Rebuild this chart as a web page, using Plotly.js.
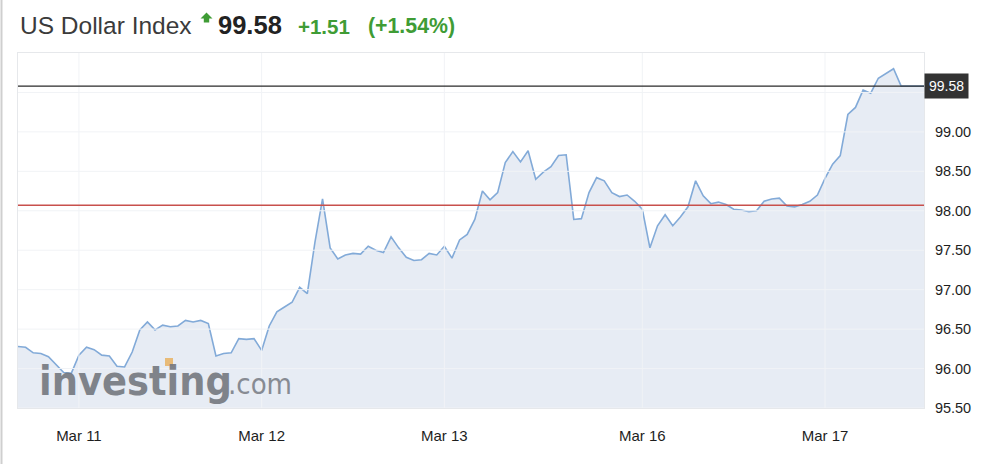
<!DOCTYPE html>
<html>
<head>
<meta charset="utf-8">
<script src="https://cdn.plot.ly/plotly-3.0.1.min.js"></script>
<style>
  html, body { margin: 0; padding: 0; background: #ffffff; }
  #chart { width: 1000px; height: 464px; }
</style>
</head>
<body>
<div id="chart"></div>
<script>
// ---- data (hourly points, index-based axis that skips the weekend) ----
const dxyValues = [
  96.28, 96.27, 96.20, 96.19, 96.15, 96.05, 95.95, 95.94, 96.17, 96.27,
  96.24, 96.17, 96.16, 96.03, 96.02, 96.21, 96.49, 96.59, 96.49, 96.55,
  96.53, 96.54, 96.61, 96.59, 96.61, 96.57, 96.16, 96.19, 96.20, 96.38,
  96.37, 96.38, 96.23, 96.54, 96.72, 96.78, 96.84, 97.03, 96.95, 97.60,
  98.15, 97.53, 97.39, 97.44, 97.46, 97.45, 97.55, 97.50, 97.47, 97.67,
  97.53, 97.41, 97.37, 97.38, 97.46, 97.44, 97.55, 97.40, 97.63, 97.70,
  97.89, 98.25, 98.14, 98.23, 98.61, 98.75, 98.62, 98.76, 98.40, 98.49,
  98.56, 98.70, 98.71, 97.89, 97.90, 98.23, 98.42, 98.38, 98.23, 98.18,
  98.20, 98.12, 98.02, 97.53, 97.81, 97.95, 97.81, 97.92, 98.05, 98.38,
  98.19, 98.09, 98.11, 98.08, 98.02, 98.01, 97.99, 98.00, 98.12, 98.15,
  98.16, 98.06, 98.05, 98.08, 98.12, 98.20, 98.41, 98.59, 98.70, 99.22,
  99.31, 99.53, 99.49, 99.68, 99.74, 99.80, 99.58, 99.58, 99.58, 99.58
];
const dayTickIndex = [8, 32, 56, 82, 106];
const dayTickLabels = ['Mar 11', 'Mar 12', 'Mar 13', 'Mar 16', 'Mar 17'];
const priceTicks = [95.5, 96.0, 96.5, 97.0, 97.5, 98.0, 98.5, 99.0];
const gridLevels = [95.5, 96.0, 96.5, 97.0, 97.5, 98.0, 98.5, 99.0, 99.5];
const lastPrice = 99.58;
const prevClose = 98.07;
const change = '+1.51';
const changePct = '(+1.54%)';
const instrument = 'US Dollar Index';

const xIdx = dxyValues.map((_, i) => i);

// plot frame in pixels (for placing header texts in paper coords)
const L = 18, R = 924, T = 53, B = 408;
const px = p => (p - L) / (R - L);
const py = p => (B - p) / (B - T);

const FONT = '"Liberation Sans", Arial, Helvetica, sans-serif';
const LOGO_FONT = '"DejaVu Sans Condensed", "Liberation Sans", Arial, sans-serif';
const GREEN = '#3f9c35';

const trace = {
  x: xIdx,
  y: dxyValues,
  type: 'scatter',
  mode: 'lines',
  fill: 'tozeroy',
  fillcolor: '#e7ecf4',
  line: { color: '#82aad8', width: 1.6 },
  hoverinfo: 'skip'
};

const shapes = [];
gridLevels.forEach(v => shapes.push({
  type: 'line', xref: 'paper', yref: 'y', x0: 0, x1: 1, y0: v, y1: v,
  line: { color: '#f1f3f6', width: 1 }, layer: 'above'
}));
dayTickIndex.forEach(i => shapes.push({
  type: 'line', xref: 'x', yref: 'paper', x0: i, x1: i, y0: 0, y1: 1,
  line: { color: '#f1f3f6', width: 1 }, layer: 'above'
}));
// previous close (red) and last price (black)
shapes.push({
  type: 'line', xref: 'paper', yref: 'y', x0: 0, x1: 1, y0: prevClose, y1: prevClose,
  line: { color: '#c8504c', width: 1.5 }, layer: 'above'
});
shapes.push({
  type: 'line', xref: 'paper', yref: 'y', x0: 0, x1: 1, y0: lastPrice, y1: lastPrice,
  line: { color: '#2a2a2a', width: 1.4 }, layer: 'above'
});
// page border on the far left
shapes.push({
  type: 'line', xref: 'paper', yref: 'paper', x0: px(1.5), x1: px(1.5), y0: py(0), y1: py(464),
  line: { color: '#cfcfcf', width: 2 }, layer: 'above'
});
// green up arrow icon next to the title
const arrowPts = [[206.5, 12.5], [212.5, 18.5], [209.2, 18.5], [209.2, 22.5], [203.8, 22.5], [203.8, 18.5], [200.5, 18.5]];
shapes.push({
  type: 'path', xref: 'paper', yref: 'paper',
  path: 'M' + arrowPts.map(p => px(p[0]) + ',' + py(p[1])).join(' L') + ' Z',
  fillcolor: GREEN, line: { width: 0 }, layer: 'above'
});
// orange square of the watermark logo
shapes.push({
  type: 'rect', xref: 'paper', yref: 'paper',
  x0: px(165), x1: px(173), y0: py(366), y1: py(358),
  fillcolor: '#e8bb78', line: { width: 0 }, layer: 'above'
});

const annotations = [
  { text: instrument, xref: 'paper', yref: 'paper', x: px(18), y: py(25), xanchor: 'left', yanchor: 'middle',
    showarrow: false, font: { family: FONT, size: 24.5, color: '#3b3b3b' } },
  { text: '<b>' + lastPrice.toFixed(2) + '</b>', xref: 'paper', yref: 'paper', x: px(216), y: py(25), xanchor: 'left', yanchor: 'middle',
    showarrow: false, font: { family: FONT, size: 25.5, color: '#222222' } },
  { text: '<b>' + change + '</b>', xref: 'paper', yref: 'paper', x: px(296), y: py(26), xanchor: 'left', yanchor: 'middle',
    showarrow: false, font: { family: FONT, size: 20.5, color: GREEN } },
  { text: '<b>' + changePct + '</b>', xref: 'paper', yref: 'paper', x: px(366), y: py(26), xanchor: 'left', yanchor: 'middle',
    showarrow: false, font: { family: FONT, size: 21.3, color: GREEN } },
  // last price tag on the right axis
  { text: lastPrice.toFixed(2), xref: 'paper', yref: 'y', x: 1, y: lastPrice, xanchor: 'left', yanchor: 'middle',
    showarrow: false, bgcolor: '#333333', borderpad: 4, font: { family: FONT, size: 14, color: '#ffffff' } },
  // watermark
  { text: '<b>investing</b>', xref: 'paper', yref: 'paper', x: px(37), y: py(381), xanchor: 'left', yanchor: 'middle',
    showarrow: false, opacity: 0.9, font: { family: LOGO_FONT, size: 41, color: '#74787f' } },
  { text: '.com', xref: 'paper', yref: 'paper', x: px(226), y: py(384), xanchor: 'left', yanchor: 'middle',
    showarrow: false, opacity: 0.9, font: { family: LOGO_FONT, size: 29, color: '#7d8189' } }
];

const layout = {
  width: 1000, height: 464,
  margin: { l: L, r: 1000 - R, t: T, b: 464 - B, pad: 0 },
  paper_bgcolor: '#ffffff', plot_bgcolor: '#ffffff',
  showlegend: false,
  xaxis: {
    range: [0, xIdx.length - 1],
    tickmode: 'array', tickvals: dayTickIndex, ticktext: dayTickLabels,
    showgrid: false, zeroline: false,
    showline: true, mirror: true, linecolor: '#e6e8eb', linewidth: 1,
    ticks: '', ticklabelstandoff: 14,
    tickfont: { family: FONT, size: 15, color: '#1e1e1e' },
    fixedrange: true
  },
  yaxis: {
    range: [95.5, 100.0], side: 'right',
    tickmode: 'array', tickvals: priceTicks, ticktext: priceTicks.map(v => v.toFixed(2)),
    showgrid: false, zeroline: false,
    showline: true, mirror: true, linecolor: '#e6e8eb', linewidth: 1,
    ticks: '', ticklabelstandoff: 7,
    tickfont: { family: FONT, size: 14.5, color: '#1e1e1e' },
    fixedrange: true
  },
  shapes: shapes,
  annotations: annotations
};

Plotly.newPlot('chart', [trace], layout, { displayModeBar: false, staticPlot: true });
</script>
</body>
</html>
